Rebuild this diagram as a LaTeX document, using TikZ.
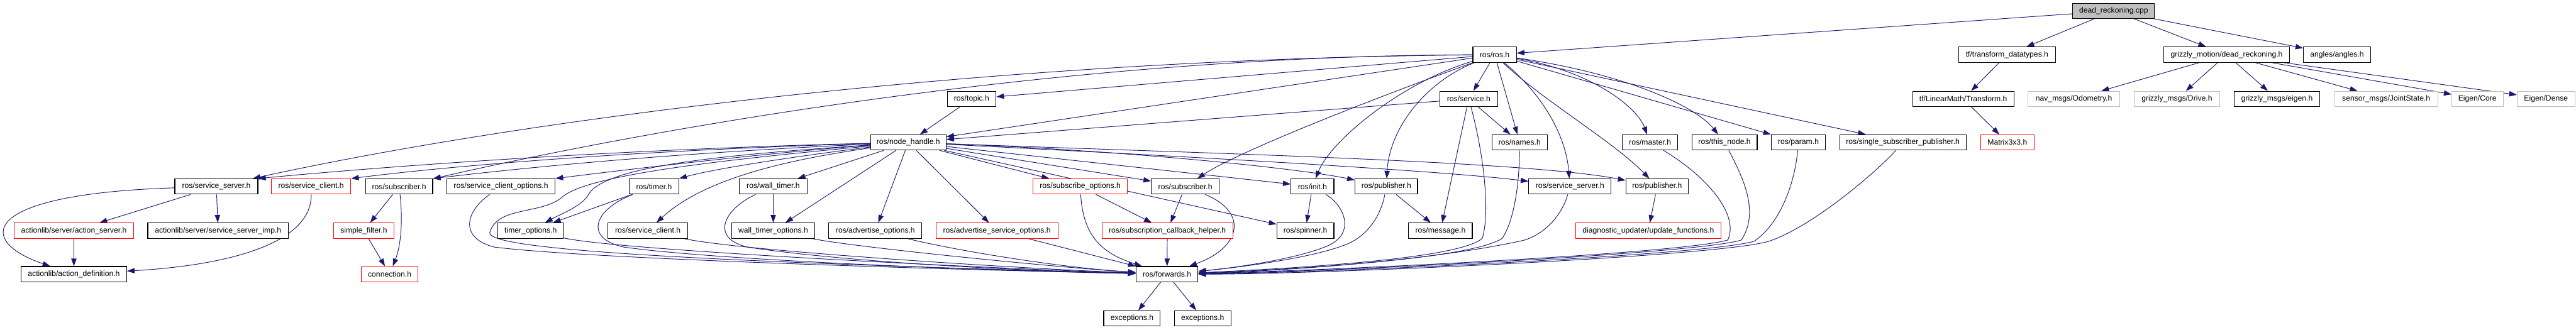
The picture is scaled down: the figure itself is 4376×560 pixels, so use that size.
\documentclass[tikz,border=0pt]{standalone}
\usepackage{fontspec}
\newfontfamily\dfont{Liberation Sans}
\usetikzlibrary{arrows.meta}
\definecolor{edgeblue}{RGB}{25,25,112}
\definecolor{grayb}{RGB}{191,191,191}
\pgfdeclarelayer{bg}
\pgfsetlayers{bg,main}
\tikzset{
  box/.style={draw=black, line width=1.2pt, rectangle, inner sep=0pt, minimum height=26pt,
    font=\dfont\fontsize{13}{15}\selectfont, text=black, fill=white},
  redbox/.style={box, draw=red, line width=1pt},
  graybox/.style={box, draw=grayb, line width=1pt},
  rootbox/.style={box, fill=grayb},
  edge/.style={draw=edgeblue, line width=1pt, -{Triangle[length=13pt,width=9pt]}}
}
\begin{document}
\begin{tikzpicture}[x=1pt,y=-1pt]
\useasboundingbox (0,0) rectangle (4376,560);
% row 0
\node[rootbox, minimum width=139pt] (drcpp) at (3590.5,18.5) {dead\_reckoning.cpp};
% row 1
\node[box, minimum width=74pt] (ros) at (2539,93) {ros/ros.h};
\node[box, minimum width=165pt] (tfdt) at (3409.5,93) {tf/transform\_datatypes.h};
\node[box, minimum width=213pt] (gmdr) at (3782.5,93) {grizzly\_motion/dead\_reckoning.h};
\node[box, minimum width=114pt] (angles) at (3970,93) {angles/angles.h};
% row 2
\node[box, minimum width=83pt] (topic) at (1650.5,168) {ros/topic.h};
\node[box, minimum width=98pt] (service) at (2495,168) {ros/service.h};
\node[box, minimum width=172pt] (lmtf) at (3335,168) {tf/LinearMath/Transform.h};
\node[graybox, minimum width=156pt] (odom) at (3523,168) {nav\_msgs/Odometry.h};
\node[graybox, minimum width=146pt] (drive) at (3698,168) {grizzly\_msgs/Drive.h};
\node[box, minimum width=146pt] (geigen) at (3868,168) {grizzly\_msgs/eigen.h};
\node[graybox, minimum width=175pt] (joint) at (4053.5,168) {sensor\_msgs/JointState.h};
\node[graybox, minimum width=87pt] (ecore) at (4208.5,168) {Eigen/Core};
\node[graybox, minimum width=98pt] (edense) at (4325,168) {Eigen/Dense};
% row 3
\node[box, minimum width=128pt] (nh) at (1543,242) {ros/node\_handle.h};
\node[box, minimum width=94pt] (names) at (2581.5,242) {ros/names.h};
\node[box, minimum width=94pt] (master) at (2803,242) {ros/master.h};
\node[box, minimum width=111pt] (thisnode) at (2929.5,242) {ros/this\_node.h};
\node[box, minimum width=92pt] (param) at (3055,242) {ros/param.h};
\node[box, minimum width=215pt] (ssp) at (3232.5,242) {ros/single\_subscriber\_publisher.h};
\node[redbox, minimum width=90pt] (m3x3) at (3410,242) {Matrix3x3.h};
% row 4
\node[box, minimum width=141pt] (ssL) at (367.5,317) {ros/service\_server.h};
\node[redbox, minimum width=135pt] (scL) at (528.5,317) {ros/service\_client.h};
\node[box, minimum width=114pt] (subL) at (678,317) {ros/subscriber.h};
\node[box, minimum width=184pt] (sco) at (851,317) {ros/service\_client\_options.h};
\node[box, minimum width=84pt] (timer) at (1111,317) {ros/timer.h};
\node[box, minimum width=115pt] (wtimer) at (1313.5,317) {ros/wall\_timer.h};
\node[redbox, minimum width=160pt] (subopt) at (1835,317) {ros/subscribe\_options.h};
\node[box, minimum width=115pt] (subR) at (2013.5,317) {ros/subscriber.h};
\node[box, minimum width=73pt] (init) at (2229.5,317) {ros/init.h};
\node[box, minimum width=106pt] (pub) at (2355,317) {ros/publisher.h};
\node[box, minimum width=140pt] (ssR) at (2667,317) {ros/service\_server.h};
\node[box, minimum width=106pt] (pubR) at (2815,317) {ros/publisher.h};
% row 5
\node[redbox, minimum width=203pt] (asrv) at (125.5,392) {actionlib/server/action\_server.h};
\node[box, minimum width=239pt] (ssimp) at (370.5,392) {actionlib/server/service\_server\_imp.h};
\node[redbox, minimum width=102pt] (sfilter) at (618,392) {simple\_filter.h};
\node[box, minimum width=111pt] (topt) at (901.5,392) {timer\_options.h};
\node[box, minimum width=135pt] (sc) at (1100.5,392) {ros/service\_client.h};
\node[box, minimum width=141pt] (wtopt) at (1313.5,392) {wall\_timer\_options.h};
\node[box, minimum width=158pt] (advopt) at (1487,392) {ros/advertise\_options.h};
\node[redbox, minimum width=207pt] (advsopt) at (1693.5,392) {ros/advertise\_service\_options.h};
\node[redbox, minimum width=222pt] (sch) at (1983,392) {ros/subscription\_callback\_helper.h};
\node[box, minimum width=97pt] (spinner) at (2217.5,392) {ros/spinner.h};
\node[box, minimum width=108pt] (message) at (2447,392) {ros/message.h};
\node[redbox, minimum width=246pt] (diag) at (2800,392) {diagnostic\_updater/update\_functions.h};
% row 6
\node[box, minimum width=179pt] (adef) at (125.5,466) {actionlib/action\_definition.h};
\node[redbox, minimum width=96pt] (conn) at (662,466) {connection.h};
\node[box, minimum width=105pt] (fwd) at (1982.5,466) {ros/forwards.h};
% row 7
\node[box, minimum width=96pt] (exc1) at (1923,541) {exceptions.h};
\node[box, minimum width=96pt] (exc2) at (2043,541) {exceptions.h};

\begin{pgfonlayer}{bg}
% root
\draw[edge] (drcpp) -- (ros);
\draw[edge] (drcpp) -- (tfdt);
\draw[edge] (drcpp) -- (gmdr);
\draw[edge] (drcpp) -- (angles);
% tf
\draw[edge] (tfdt) -- (lmtf);
\draw[edge] (lmtf) -- (m3x3);
% grizzly
\draw[edge] (gmdr) -- (odom);
\draw[edge] (gmdr) -- (drive);
\draw[edge] (gmdr) -- (geigen);
\draw[edge] (gmdr) -- (joint);
\draw[edge] (gmdr) -- (ecore);
\draw[edge] (gmdr) -- (edense);
% ros.h
\draw[edge] (ros) .. controls (1700,100) and (900,200) .. (ssL);
\draw[edge] (ros) .. controls (1800,95) and (1100,220) .. (subL);
\draw[edge] (ros) -- (topic);
\draw[edge] (ros) -- (nh);
\draw[edge] (ros) -- (service);
\draw[edge] (ros) -- (names);
\draw[edge] (ros) .. controls (2300,180) and (2100,260) .. (subR);
\draw[edge] (ros) .. controls (2380,140) and (2260,240) .. (init);
\draw[edge] (ros) .. controls (2420,140) and (2360,220) .. (pub);
\draw[edge] (ros) .. controls (2620,160) and (2660,230) .. (ssR);
\draw[edge] (ros) .. controls (2620,170) and (2740,240) .. (pubR);
\draw[edge] (ros) .. controls (2700,120) and (2780,180) .. (master);
\draw[edge] (ros) .. controls (2760,125) and (2880,180) .. (thisnode);
\draw[edge] (ros) -- (param);
\draw[edge] (ros) -- (ssp);
% topic, service
\draw[edge] (topic) -- (nh);
\draw[edge] (service) -- (nh);
\draw[edge] (service) -- (names);
\draw[edge] (service) -- (message);
\draw[edge] (service) .. controls (2520,260) and (2532,360) .. (2518,405) .. controls (2480,440) and (2200,456) .. (fwd);
\draw[edge] (names) .. controls (2581,300) and (2575,370) .. (2552,405) .. controls (2500,440) and (2200,458) .. (fwd);
\draw[edge] (master) .. controls (2900,300) and (2955,365) .. (2935,408) .. controls (2850,432) and (2250,460) .. (fwd);
\draw[edge] (thisnode) .. controls (2960,300) and (2990,360) .. (2958,408) .. controls (2880,432) and (2250,462) .. (fwd);
\draw[edge] (param) .. controls (3050,300) and (3030,375) .. (2980,410) .. controls (2900,434) and (2250,464) .. (fwd);
\draw[edge] (ssp) .. controls (3190,290) and (3080,385) .. (3005,410) .. controls (2920,436) and (2250,466) .. (fwd);
% node_handle
\draw[edge] (nh) .. controls (1000,255) and (600,288) .. (ssL.north east);
\draw[edge] (nh) .. controls (1000,258) and (700,290) .. (scL.north east);
\draw[edge] (nh) .. controls (1100,262) and (850,290) .. (subL.north east);
\draw[edge] (nh) .. controls (1300,260) and (1050,290) .. (sco.north east);
\draw[edge] (nh) .. controls (1380,262) and (1220,285) .. (timer.north east);
\draw[edge] (nh) .. controls (1250,262) and (1030,280) .. (1000,330) .. controls (990,350) and (950,365) .. (topt);
\draw[edge] (nh) .. controls (1350,270) and (1200,300) .. (sc);
\draw[edge] (nh) -- (wtimer);
\draw[edge] (nh) -- (wtopt);
\draw[edge] (nh) -- (advopt);
\draw[edge] (nh) -- (advsopt);
\draw[edge] (nh) -- (subopt);
\draw[edge] (nh) -- (subR);
\draw[edge] (nh) -- (init);
\draw[edge] (nh) -- (spinner);
\draw[edge] (nh) .. controls (1900,255) and (2200,285) .. (pub);
\draw[edge] (nh) .. controls (2000,265) and (2450,290) .. (ssR);
\draw[edge] (nh) .. controls (2100,262) and (2600,275) .. (pubR);
\draw[edge] (nh) .. controls (1250,270) and (1000,295) .. (955,335) .. controls (920,365) and (845,350) .. (832,395) .. controls (825,425) and (1200,445) .. (fwd);
% left part
\draw[edge] (ssL) .. controls (-40,330) and (-40,410) .. (adef);
\draw[edge] (ssL) -- (asrv);
\draw[edge] (ssL) -- (ssimp);
\draw[edge] (asrv) -- (adef);
\draw[edge] (scL) .. controls (530,410) and (400,450) .. (adef);
\draw[edge] (subL) -- (sfilter);
\draw[edge] (subL) .. controls (685,380) and (680,420) .. (conn);
\draw[edge] (sfilter) -- (conn);
% row 4 -> row 5 / forwards
\draw[edge] (sco) .. controls (790,360) and (780,405) .. (840,420) .. controls (1000,440) and (1600,458) .. (fwd);
\draw[edge] (timer) -- (topt);
\draw[edge] (timer) .. controls (1010,355) and (990,405) .. (1060,420) .. controls (1200,440) and (1600,458) .. (fwd);
\draw[edge] (topt) .. controls (1050,425) and (1650,455) .. (fwd);
\draw[edge] (sc) .. controls (1250,425) and (1700,455) .. (fwd);
\draw[edge] (wtimer) -- (wtopt);
\draw[edge] (wtimer) .. controls (1230,355) and (1205,405) .. (1270,420) .. controls (1400,440) and (1650,458) .. (fwd);
\draw[edge] (wtopt) .. controls (1450,420) and (1800,455) .. (fwd);
\draw[edge] (advopt) .. controls (1620,425) and (1800,455) .. (fwd);
\draw[edge] (advsopt) -- (fwd);
\draw[edge] (subopt) -- (sch);
\draw[edge] (subopt) .. controls (1840,400) and (1870,430) .. (fwd);
\draw[edge] (subR) -- (sch);
\draw[edge] (subR) .. controls (2120,360) and (2110,420) .. (fwd);
\draw[edge] (sch) -- (fwd);
\draw[edge] (init) -- (spinner);
\draw[edge] (init) .. controls (2285,350) and (2305,400) .. (2250,420) .. controls (2200,440) and (2100,455) .. (fwd);
\draw[edge] (pub) -- (message);
\draw[edge] (pub) .. controls (2345,370) and (2320,405) .. (2280,418) .. controls (2220,440) and (2100,455) .. (fwd);
\draw[edge] (ssR) .. controls (2655,360) and (2630,395) .. (2590,408) .. controls (2450,440) and (2200,460) .. (fwd);
\draw[edge] (pubR) -- (diag);
\draw[edge] (fwd) -- (exc1);
\draw[edge] (fwd) -- (exc2);
\end{pgfonlayer}
\end{tikzpicture}
\end{document}
